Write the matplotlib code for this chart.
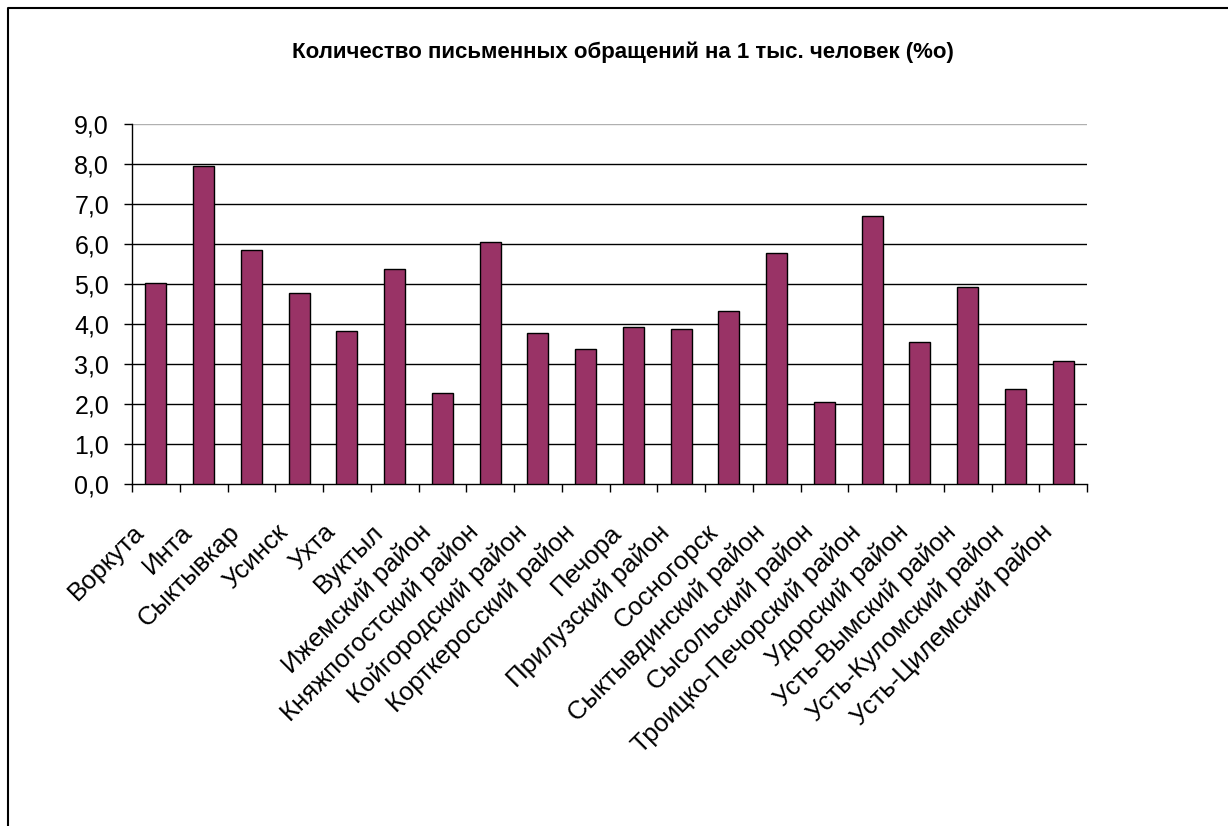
import numpy as np
import matplotlib.pyplot as plt
from matplotlib.lines import Line2D
from matplotlib.transforms import ScaledTranslation

plt.rcParams['font.family'] = ['Liberation Sans', 'DejaVu Sans']

regions = ['Воркута', 'Инта', 'Сыктывкар', 'Усинск', 'Ухта', 'Вуктыл',
           'Ижемский район', 'Княжпогостский район', 'Койгородский район',
           'Корткеросский район', 'Печора', 'Прилузский район', 'Сосногорск',
           'Сыктывдинский район', 'Сысольский район', 'Троицко-Печорский район',
           'Удорский район', 'Усть-Вымский район', 'Усть-Куломский район',
           'Усть-Цилемский район']
values = [5.02, 7.96, 5.85, 4.78, 3.82, 5.37, 2.27, 6.06, 3.78, 3.37,
          3.92, 3.88, 4.33, 5.78, 2.06, 6.71, 3.54, 4.93, 2.37, 3.08]
yticks = np.arange(0, 10)

fig = plt.figure(figsize=(12.28, 8.26), dpi=100)
W, H = 1228, 826
ax = fig.add_axes([132 / W, 1 - 484 / H, (1087 - 132) / W, (484 - 124) / H])

x = np.arange(len(regions))
ax.bar(x, values, width=0.44, color='#993366', edgecolor='black', linewidth=1, zorder=3)

ax.set_xlim(-0.5, len(regions) - 0.5)
ax.set_ylim(0, 9)

for v in yticks[1:]:
    ax.axhline(v, color='black' if v < 9 else '#b0b0b0', lw=1, zorder=1)

ax.set_yticks(yticks)
ax.set_yticklabels(['{:.1f}'.format(v).replace('.', ',') for v in yticks], fontsize=18)
ax.tick_params(axis='y', direction='out', length=6, width=1, pad=10.5)

ax.set_xticks(x)
ax.set_xticks(np.arange(-0.5, len(regions)), minor=True)
ax.tick_params(axis='x', which='major', length=0, pad=32)
ax.tick_params(axis='x', which='minor', direction='out', length=6, width=1)
ax.set_xticklabels(regions, fontsize=18.5, rotation=45, ha='right', va='center',
                   rotation_mode='anchor')
off = ScaledTranslation(-15 / 100, 0, fig.dpi_scale_trans)
for lab in ax.get_xticklabels():
    lab.set_transform(lab.get_transform() + off)

for s in ['top', 'right']:
    ax.spines[s].set_visible(False)
ax.spines['left'].set_linewidth(1)
ax.spines['bottom'].set_linewidth(1)

fig.text(623 / W, 1 - 52 / H, 'Количество письменных обращений на 1 тыс. человек (%о)',
         ha='center', va='center', fontsize=16, fontweight='bold')

fig.add_artist(Line2D([8 / W, 8 / W, 1], [0, 1 - 8 / H, 1 - 8 / H],
                      transform=fig.transFigure, color='black', lw=1.5))

fig.savefig('out.png', dpi=100)
